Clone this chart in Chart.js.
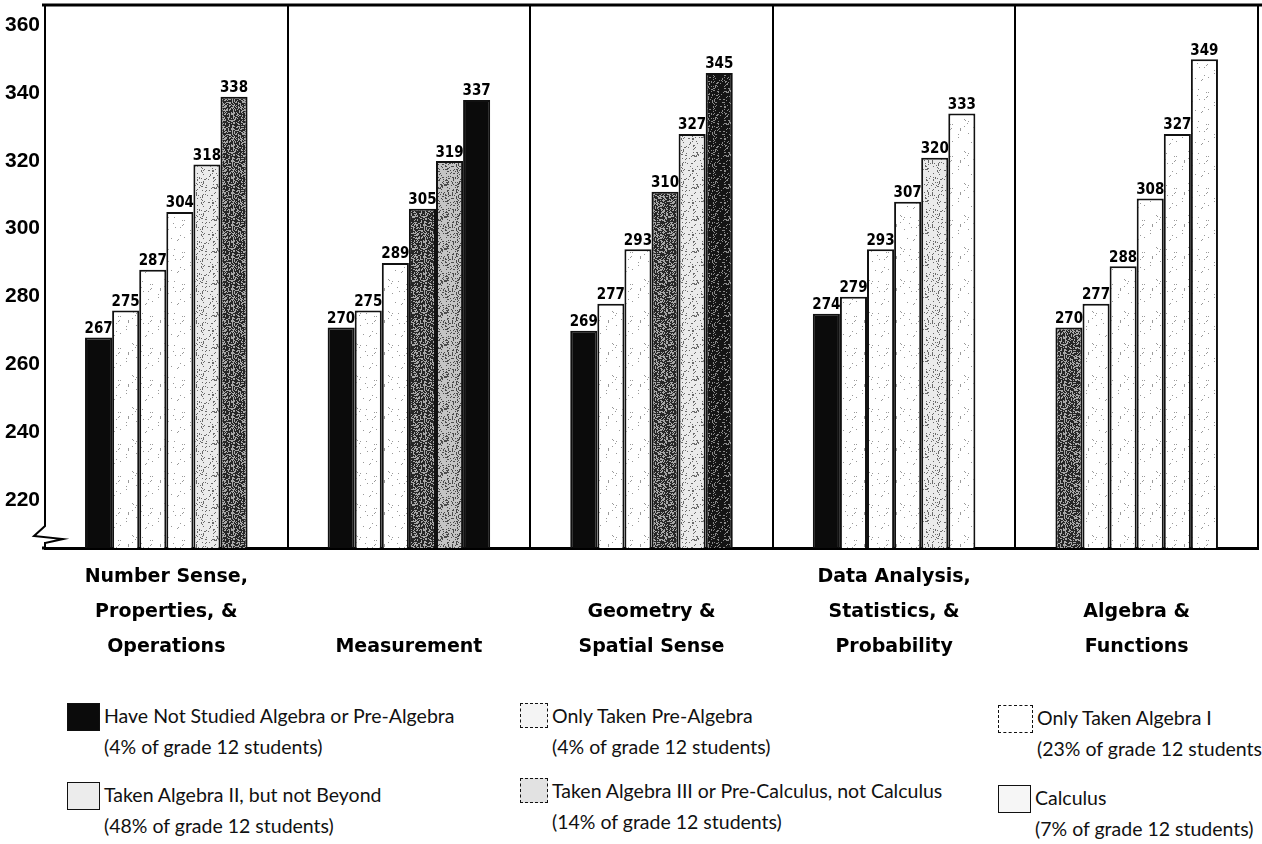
<!DOCTYPE html>
<html lang="en">
<head>
  <meta charset="UTF-8">
  <title>Grade 12 scale scores by mathematics course taking</title>
  <script src="https://cdn.jsdelivr.net/npm/chart.js"></script>
  <style>
    body { margin: 0; width: 1262px; height: 844px; overflow: hidden; background: #fff; position: relative; }
    #chart { position: absolute; left: 0; top: 0; }
    .key { position: absolute; font-family: Lato, "DejaVu Sans", sans-serif; font-size: 19.5px; line-height: 31px; color: #111; white-space: nowrap; }
    .key .box { position: absolute; left: 0; top: 0; border: 1.5px solid #111; box-sizing: border-box; }
    .key .txt { position: absolute; top: -3px; }
  </style>
</head>
<body>
  <canvas id="chart" width="1262" height="670"></canvas>
  <div id="legend"></div>

  <script>
    // content areas (x axis)
    const categories = [
      ["Number Sense,", "Properties, &", "Operations"],
      ["Measurement"],
      ["Geometry &", "Spatial Sense"],
      ["Data Analysis,", "Statistics, &", "Probability"],
      ["Algebra &", "Functions"]
    ];

    // course-taking groups
    const seriesNames = [
      "Have Not Studied Algebra or Pre-Algebra",
      "Only Taken Pre-Algebra",
      "Only Taken Algebra I",
      "Taken Algebra II, but not Beyond",
      "Taken Algebra III or Pre-Calculus, not Calculus",
      "Calculus"
    ];
    const seriesShares = ["4%", "4%", "23%", "48%", "14%", "7%"];

    // average scale scores, one value per content area
    const notStudied = [267, 270, 269, 274, 270];
    const preAlgebra = [275, 275, 277, 279, 277];
    const algebraOne = [287, 289, 293, 293, 288];
    const algebraTwo = [304, 305, 310, 307, 308];
    const algebraThree = [318, 319, 327, 320, 327];
    const calculus = [338, 337, 345, 333, 349];

    const yTicks = [220, 240, 260, 280, 300, 320, 340, 360];

    // stipple fills, the scan looks like this
    function stipple(base, dot, density) {
      const c = document.createElement('canvas');
      c.width = 32; c.height = 32;
      const g = c.getContext('2d');
      g.fillStyle = base;
      g.fillRect(0, 0, 32, 32);
      g.fillStyle = dot;
      for (let y = 0; y < 32; y++) {
        for (let x = 0; x < 32; x++) {
          const h = ((x * 73856093) ^ (y * 19349663) ^ ((x + y) * 83492791)) >>> 0;
          if (h % 1000 < density * 1000) g.fillRect(x, y, 1, 1);
        }
      }
      return g.createPattern(c, 'repeat');
    }
    const ctx = document.getElementById('chart').getContext('2d');
    const fills = {
      K: '#0b0b0b',
      DK: stipple('#141414', '#8a8a8a', 0.18),
      D: stipple('#262626', '#a8a8a8', 0.38),
      M: stipple('#c4c4c4', '#4a4a4a', 0.22),
      L: stipple('#ebebeb', '#6a6a6a', 0.12),
      W: stipple('#ffffff', '#9a9a9a', 0.025)
    };

    // fill of each bar as printed, per group
    const barLook = [
      ['K', 'K', 'K', 'K', 'D'],
      ['W', 'W', 'W', 'W', 'W'],
      ['W', 'W', 'W', 'W', 'W'],
      ['W', 'D', 'D', 'W', 'W'],
      ['L', 'M', 'L', 'L', 'W'],
      ['D', 'K', 'DK', 'W', 'W']
    ];

    const seriesValues = [notStudied, preAlgebra, algebraOne, algebraTwo, algebraThree, calculus];

    const datasets = seriesValues.map((vals, i) => ({
      label: seriesNames[i],
      data: vals,
      backgroundColor: barLook[i].map(k => fills[k]),
      borderColor: '#111',
      borderWidth: 2,
      borderSkipped: 'bottom',
      barPercentage: 1.0,
      categoryPercentage: 0.67
    }));

    // numbers on top of bars
    const valueLabels = {
      id: 'valueLabels',
      afterDatasetsDraw(chart) {
        const c = chart.ctx;
        c.save();
        c.font = 'bold 15px "DejaVu Sans Condensed", "Liberation Sans Narrow", sans-serif';
        c.fillStyle = '#000';
        c.textAlign = 'center';
        c.textBaseline = 'bottom';
        chart.data.datasets.forEach((ds, i) => {
          chart.getDatasetMeta(i).data.forEach((bar, j) => {
            c.fillText(ds.data[j], bar.x, bar.y - 1);
          });
        });
        c.restore();
      }
    };

    // top rule and the axis break mark
    const frame = {
      id: 'frame',
      afterDraw(chart) {
        const a = chart.chartArea;
        const c = chart.ctx;
        c.save();
        c.strokeStyle = '#000';
        c.lineWidth = 3;
        c.beginPath();
        c.moveTo(a.left - 3, a.top);
        c.lineTo(a.right + 4, a.top);
        c.stroke();
        c.beginPath();
        c.moveTo(a.left - 3, a.bottom);
        c.lineTo(a.left, a.bottom);
        c.stroke();
        // break
        c.fillStyle = '#fff';
        c.fillRect(a.left - 3, a.bottom - 24, 5, 18);
        c.lineWidth = 2;
        c.beginPath();
        c.moveTo(a.left, a.bottom - 28);
        c.lineTo(a.left, a.bottom - 22);
        c.lineTo(a.left - 11, a.bottom - 12);
        c.lineTo(a.left + 18, a.bottom - 9);
        c.lineTo(a.left, a.bottom - 5);
        c.lineTo(a.left, a.bottom);
        c.stroke();
        c.restore();
      }
    };

    new Chart(ctx, {
      type: 'bar',
      data: {
        labels: categories.map(l => ['', '', ''].slice(l.length).concat(l)),
        datasets: datasets
      },
      options: {
        responsive: false,
        animation: false,
        layout: { padding: { top: 5, right: 4, left: 0, bottom: 0 } },
        plugins: {
          legend: { display: false },
          tooltip: { enabled: false }
        },
        scales: {
          x: {
            grid: { offset: true, color: '#000', lineWidth: 2, drawTicks: false },
            border: { display: true, color: '#000', width: 3 },
            ticks: {
              color: '#000',
              padding: 12,
              maxRotation: 0,
              autoSkip: false,
              font: { family: '"DejaVu Sans", sans-serif', size: 19, weight: 'bold', lineHeight: '35px' }
            },
            afterFit(scale) { scale.height = 122; }
          },
          y: {
            min: 205,
            max: 365,
            grid: { display: false, drawTicks: false },
            border: { display: true, color: '#000', width: 2 },
            afterBuildTicks(scale) { scale.ticks = yTicks.map(v => ({ value: v })); },
            ticks: {
              color: '#000',
              padding: 5,
              labelOffset: 3,
              font: { family: '"Liberation Sans", Arial, sans-serif', size: 21, weight: 'bold' }
            },
            afterFit(scale) {
              scale.width = 45;
              scale.paddingTop = 0;
              scale.paddingBottom = 0;
            }
          }
        }
      },
      plugins: [valueLabels, frame]
    });

    // legend, three columns by two rows
    const keyPos = [
      { x: 67, y: 703 }, { x: 520, y: 703 }, { x: 998, y: 705 },
      { x: 67, y: 782 }, { x: 520, y: 778 }, { x: 998, y: 785 }
    ];
    const keyBox = [
      { w: 33, h: 28, bg: '#0b0b0b', border: 'solid' },
      { w: 28, h: 25, bg: '#f4f4f4', border: 'dashed' },
      { w: 35, h: 28, bg: '#ffffff', border: 'dashed' },
      { w: 33, h: 28, bg: '#ececec', border: 'solid' },
      { w: 28, h: 25, bg: '#e2e2e2', border: 'dashed' },
      { w: 33, h: 28, bg: '#f6f6f6', border: 'solid' }
    ];
    const legendEl = document.getElementById('legend');
    seriesNames.forEach((name, i) => {
      const k = document.createElement('div');
      k.className = 'key';
      k.style.left = keyPos[i].x + 'px';
      k.style.top = keyPos[i].y + 'px';
      const b = document.createElement('div');
      b.className = 'box';
      b.style.width = keyBox[i].w + 'px';
      b.style.height = keyBox[i].h + 'px';
      b.style.background = keyBox[i].bg;
      b.style.borderStyle = keyBox[i].border;
      const t = document.createElement('div');
      t.className = 'txt';
      t.style.left = (keyBox[i].w + 4) + 'px';
      t.innerHTML = name + '<br>(' + seriesShares[i] + ' of grade 12 students)';
      k.appendChild(b);
      k.appendChild(t);
      legendEl.appendChild(k);
    });
  </script>
</body>
</html>
